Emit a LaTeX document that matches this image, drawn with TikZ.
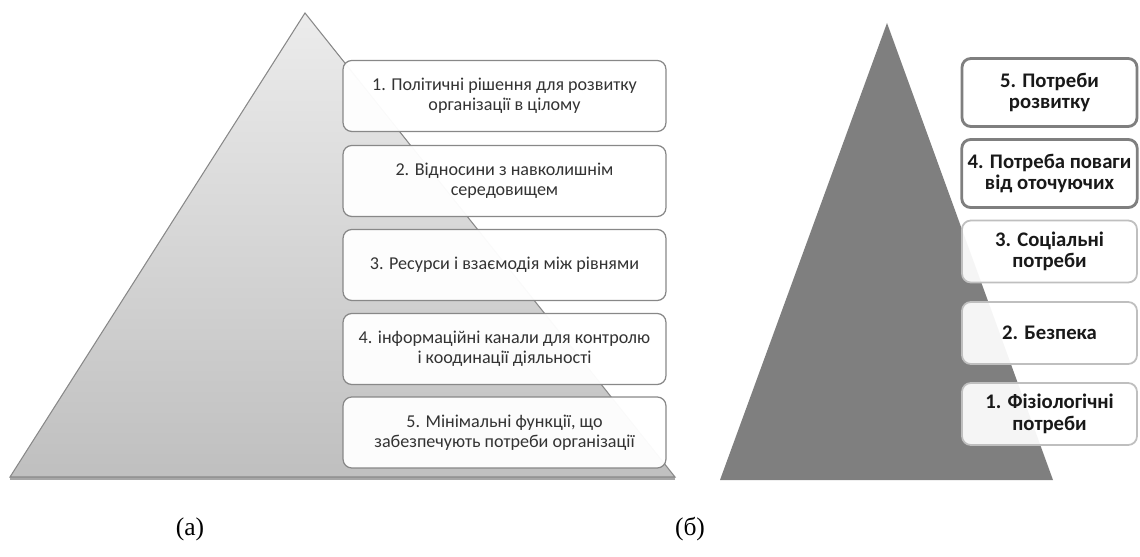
\documentclass[tikz,border=0pt]{standalone}
\usepackage{fontspec}
\setmainfont{Liberation Serif}
\newfontfamily\boxfont{Carlito}
\usetikzlibrary{positioning}
\definecolor{pyrgray}{RGB}{127,127,127}
\definecolor{boxline}{RGB}{136,136,136}

\begin{document}
\begin{tikzpicture}[x=0.02cm,y=-0.02cm]
  \tikzstyle{lvl}=[draw=boxline,line width=0.7pt,rounded corners=5pt,fill=white,fill opacity=0.96,
    text opacity=1,minimum width=6.46cm,minimum height=1.42cm,align=center,text=black!80,
    font=\boxfont\fontsize{10.3}{11.5}\selectfont]
  \tikzstyle{need}=[draw=pyrgray,line width=1.6pt,rounded corners=5pt,fill=white,fill opacity=0.96,
    text opacity=1,minimum width=3.5cm,minimum height=1.36cm,align=center,text=black!90,
    font=\boxfont\bfseries\fontsize{11.8}{12.3}\selectfont]
  \tikzstyle{softneed}=[need,draw=black!25,line width=1pt,minimum height=1.24cm,fill opacity=0.93]
  \tikzstyle{caption}=[font=\fontsize{14.5}{16}\selectfont]

  \useasboundingbox (0,0) rectangle (1140,557);

  % -- (a) pyramid --
  \coordinate (aTop) at (305,13);
  \coordinate (aLeft) at (10,477);
  \coordinate (aRight) at (675,477);
  \draw[black!35,line width=1.6pt] ([yshift=-0.8]aLeft) -- ([yshift=-0.8]aRight);
  \path[draw=boxline,line width=0.6pt,top color=gray!15,bottom color=gray!50]
    (aTop) -- (aRight) -- (aLeft) -- cycle;

  \node[lvl] (p1) at (504.5,96) {1. Політичні рішення для розвитку\\ організації в цілому};
  \node[lvl] (p2) at (504.5,181) {2. Відносини з навколишнім\\ середовищем};
  \node[lvl] (p3) at (504.5,265) {3. Ресурси і взаємодія між рівнями};
  \node[lvl] (p4) at (504.5,349) {4. інформаційні канали для контролю\\ і коодинації діяльності};
  \node[lvl] (p5) at (504.5,432.5) {5. Мінімальні функції, що\\ забезпечують потреби організації};

  % -- (б) pyramid --
  \coordinate (bTop) at (887,23);
  \coordinate (bLeft) at (720,480);
  \coordinate (bRight) at (1053,480);
  \fill[pyrgray] (bTop) -- (bRight) -- (bLeft) -- cycle;

  \node[need] (n5) at (1049.5,92.5) {5. Потреби\\ розвитку};
  \node[need] (n4) at (1049.5,173.5) {4. Потреба поваги\\ від оточуючих};
  \node[softneed] (n3) at (1049.5,251.5) {3. Соціальні\\ потреби};
  \node[softneed] (n2) at (1049.5,333) {2. Безпека};
  \node[softneed] (n1) at (1049.5,414) {1. Фізіологічні\\ потреби};

  % -- captions --
  \node[caption] (capa) at (190,529) {(а)};
  \node[caption] (capb) at (690,529) {(б)};
\end{tikzpicture}
\end{document}
